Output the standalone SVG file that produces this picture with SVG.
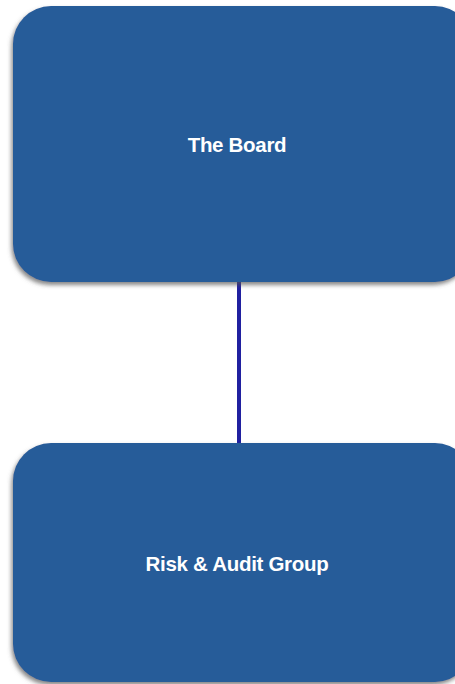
<svg xmlns="http://www.w3.org/2000/svg" width="455" height="684" viewBox="0 0 455 684">
<defs>
<style>
.box{fill:#285b99;filter:url(#sh);}
.lbl{font-family:"Liberation Sans",Arial,sans-serif;font-weight:bold;font-size:20.5px;fill:#fff;text-anchor:middle;letter-spacing:-0.3px;}
.conn{stroke:#2020a0;stroke-width:4;fill:none;}
</style>
<filter id="sh" x="-10%" y="-10%" width="120%" height="120%">
<feDropShadow dx="-1.5" dy="3" stdDeviation="2" flood-color="#555" flood-opacity="0.7"/>
</filter>
</defs>
<rect width="455" height="684" fill="#fff"/>
<g id="connectors">
<line class="conn" x1="239" y1="280" x2="239" y2="444"/>
</g>
<g id="board">
<rect class="box" x="13" y="6" width="460" height="276" rx="38" ry="38"/>
<text class="lbl" x="237" y="152">The Board</text>
</g>
<g id="risk-audit">
<rect class="box" x="13" y="443" width="460" height="239" rx="38" ry="38"/>
<text class="lbl" x="237" y="571">Risk &amp; Audit Group</text>
</g>
</svg>
